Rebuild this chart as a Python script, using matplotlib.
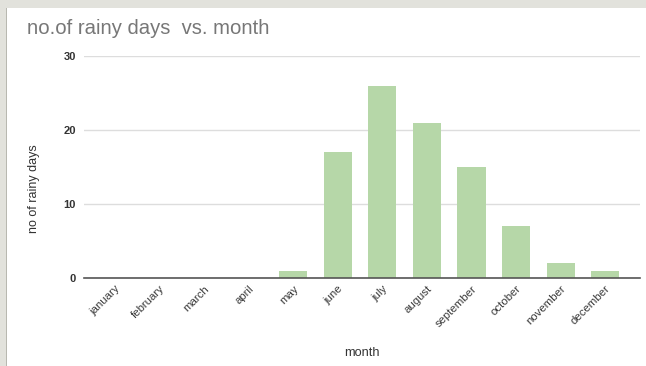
import matplotlib
matplotlib.use('Agg')
import matplotlib.pyplot as plt
from matplotlib.patches import Rectangle

plt.rcParams['font.family'] = ['Liberation Sans', 'DejaVu Sans']

months = ["january", "february", "march", "april", "may", "june", "july",
          "august", "september", "october", "november", "december"]
rainy_days = [0, 0, 0, 0, 1, 17, 26, 21, 15, 7, 2, 1]
y_ticks = [0, 10, 20, 30]

W, H = 646, 366
fig = plt.figure(figsize=(W / 100, H / 100), dpi=100)
fig.patch.set_facecolor("#e2e2dc")
# white card with a thin grey frame on the top and left
fig.patches.append(Rectangle((7 / W, 0), 1 - 7 / W, 1 - 8 / H, transform=fig.transFigure,
                             facecolor="white", edgecolor="none", zorder=-10))
fig.patches.append(Rectangle((6 / W, 0), 1.5 / W, 1 - 8 / H, transform=fig.transFigure,
                             facecolor="#b8b8b0", edgecolor="none", zorder=-10))

ax = fig.add_axes([84 / W, 1 - 278 / H, (640 - 84) / W, (278 - 56) / H])
ax.set_facecolor("white")
x = range(len(months))
ax.bar(x, rainy_days, width=0.63, color="#b6d7a8", zorder=2)

ax.set_xlim(-0.69, 11.78)
ax.set_ylim(0, 30)
ax.set_yticks(y_ticks)
ax.set_yticklabels([str(v) for v in y_ticks], fontsize=8, color="#333333", fontweight="bold")
ax.set_xticks(list(x))
ax.set_xticklabels(months, rotation=45, ha="right", rotation_mode="anchor",
                   fontsize=8.2, color="#3a3a3a")
ax.tick_params(axis="both", length=0, pad=6)
ax.tick_params(axis="x", pad=4)
ax.grid(axis="y", color="#dddddd", linewidth=1, zorder=0)
for s in ["top", "right", "left"]:
    ax.spines[s].set_visible(False)
ax.spines["bottom"].set_color("#555555")
ax.spines["bottom"].set_linewidth(1.2)
ax.spines["bottom"].set_zorder(3)

fig.text(27 / W, 1 - 28 / H, "no.of rainy days  vs. month", fontsize=14.6,
         color="#777777", va="center", ha="left")
fig.text(34 / W, 1 - 189 / H, "no of rainy days", rotation=90, fontsize=9,
         color="#333333", va="center", ha="center")
fig.text(362 / W, 1 - 353 / H, "month", fontsize=9.2, color="#333333",
         va="center", ha="center")

fig.savefig("out.png", dpi=100, facecolor=fig.get_facecolor())
